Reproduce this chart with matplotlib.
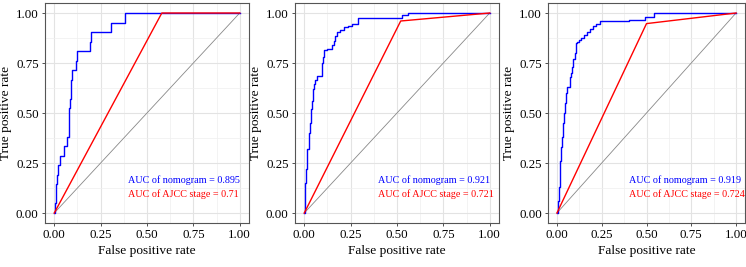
import numpy as np
import matplotlib
matplotlib.use('Agg')
import matplotlib.pyplot as plt
from matplotlib.ticker import MultipleLocator

plt.rcParams['font.family'] = ['Liberation Serif', 'DejaVu Serif']

# 패널 1 (nomogram ROC)
fpr1 = [0, 0.004, 0.007, 0.012, 0.016, 0.022, 0.031, 0.052, 0.068, 0.078, 0.080, 0.082,
        0.085, 0.088, 0.092, 0.097, 0.117, 0.124, 0.19, 0.197, 0.305, 0.384, 1.0]
tpr1 = [0, 0.048, 0.095, 0.143, 0.19, 0.238, 0.286, 0.333, 0.381, 0.429, 0.476, 0.524,
        0.571, 0.619, 0.667, 0.714, 0.762, 0.81, 0.857, 0.905, 0.952, 1.0, 1.0]
# 패널 2
fpr2 = [0, 0.002, 0.005, 0.009, 0.013, 0.017, 0.024, 0.028, 0.033, 0.036, 0.040, 0.045,
        0.052, 0.060, 0.070, 0.095, 0.100, 0.108, 0.120, 0.150, 0.158, 0.165, 0.178,
        0.195, 0.215, 0.235, 0.26, 0.29, 0.525, 0.56, 1.0]
tpr2 = [0, 0.06, 0.15, 0.22, 0.26, 0.32, 0.34, 0.40, 0.45, 0.52, 0.56, 0.62,
        0.645, 0.665, 0.685, 0.75, 0.78, 0.815, 0.82, 0.84, 0.86, 0.885, 0.905,
        0.915, 0.93, 0.935, 0.945, 0.975, 0.99, 1.0, 1.0]
# 패널 3
fpr3 = [0, 0.004, 0.009, 0.015, 0.019, 0.024, 0.030, 0.035, 0.040, 0.046, 0.052, 0.058,
        0.071, 0.077, 0.086, 0.092, 0.099, 0.106, 0.112, 0.125, 0.136, 0.150, 0.168,
        0.183, 0.200, 0.217, 0.240, 0.400, 0.490, 0.542, 1.0]
tpr3 = [0, 0.06, 0.13, 0.20, 0.26, 0.33, 0.38, 0.45, 0.50, 0.55, 0.60, 0.63,
        0.68, 0.70, 0.73, 0.77, 0.80, 0.85, 0.855, 0.865, 0.875, 0.89, 0.905,
        0.92, 0.935, 0.945, 0.96, 0.965, 0.98, 1.0, 1.0]

# AJCC stage ROC
ajcc_fpr1 = [0, 0.58, 1.0]
ajcc_tpr1 = [0, 1.0, 1.0]
ajcc_fpr2 = [0, 0.52, 1.0]
ajcc_tpr2 = [0, 0.96, 1.0]
ajcc_fpr3 = [0, 0.50, 1.0]
ajcc_tpr3 = [0, 0.947, 1.0]

auc_nomo = ['0.895', '0.921', '0.919']
auc_ajcc = ['0.71', '0.721', '0.724']

W, H = 746, 267
fig = plt.figure(figsize=(W / 100, H / 100), dpi=100)

lefts = [45, 295, 548]
widths = [204, 204, 197]
top, height = 3, 220

panels = [(fpr1, tpr1, ajcc_fpr1, ajcc_tpr1),
          (fpr2, tpr2, ajcc_fpr2, ajcc_tpr2),
          (fpr3, tpr3, ajcc_fpr3, ajcc_tpr3)]

for i, (fx, ty, ax_, ay_) in enumerate(panels):
    ax = fig.add_axes([lefts[i] / W, (H - top - height) / H, widths[i] / W, height / H])
    ax.set_xlim(-0.05, 1.05)
    ax.set_ylim(-0.05, 1.05)
    ax.xaxis.set_major_locator(MultipleLocator(0.25))
    ax.yaxis.set_major_locator(MultipleLocator(0.25))
    ax.xaxis.set_minor_locator(MultipleLocator(0.125))
    ax.yaxis.set_minor_locator(MultipleLocator(0.125))
    ax.grid(which='major', color='#E3E3E3', lw=0.8)
    ax.grid(which='minor', color='#EFEFEF', lw=0.5)
    ax.set_axisbelow(True)
    ax.tick_params(which='minor', length=0)
    ax.tick_params(which='major', length=2.5, width=0.6, color='#333333',
                   labelsize=9.3, pad=2, labelcolor='black')
    ax.xaxis.set_major_formatter(plt.FuncFormatter(lambda v, p: f'{v:.2f}'))
    ax.yaxis.set_major_formatter(plt.FuncFormatter(lambda v, p: f'{v:.2f}'))
    for s in ax.spines.values():
        s.set_color('#555555')
        s.set_linewidth(0.8)

    ax.plot([0, 1], [0, 1], color='#888888', lw=0.6)
    ax.plot(fx, ty, color='blue', lw=1.0, drawstyle='steps-post')
    ax.plot(ax_, ay_, color='red', lw=1.0)

    ax.text(0.4, 0.163, f'AUC of nomogram = {auc_nomo[i]}', color='blue',
            fontsize=7.3, ha='left', va='center')
    ax.text(0.4, 0.092, f'AUC of AJCC stage = {auc_ajcc[i]}', color='red',
            fontsize=7.3, ha='left', va='center')

    ax.set_xlabel('False positive rate', fontsize=9.6, labelpad=3)
    ax.set_ylabel('True positive rate', fontsize=9.6, labelpad=3)

fig.savefig('out.png', dpi=100)
